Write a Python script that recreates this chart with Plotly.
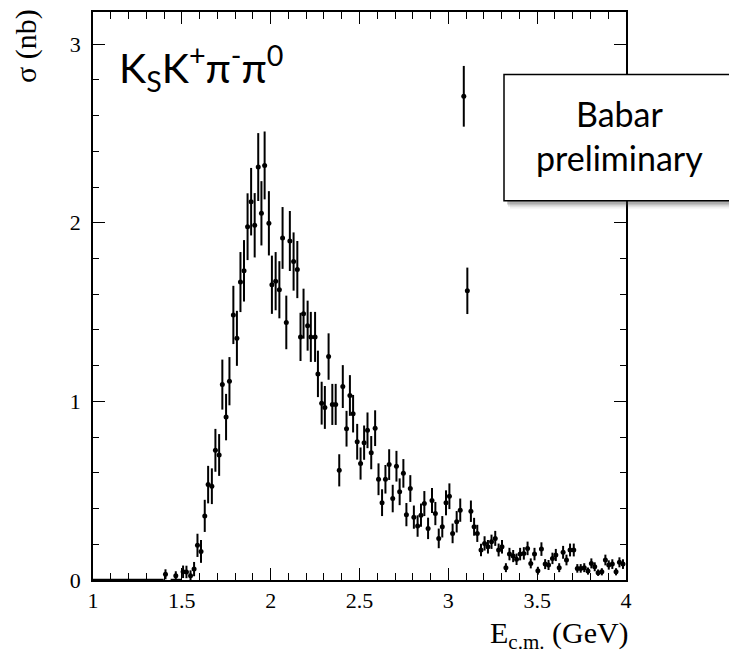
import plotly.graph_objects as go

# Bin centres (GeV) and cross sections (nb)
energy = [1.408, 1.466, 1.507, 1.526, 1.549, 1.569, 1.588, 1.608, 1.629, 1.648,
          1.669, 1.689, 1.710, 1.728, 1.749, 1.768, 1.790, 1.810, 1.830, 1.850,
          1.870, 1.890, 1.910, 1.930, 1.948, 1.966, 1.990, 2.007, 2.028, 2.049,
          2.067, 2.088, 2.108, 2.129, 2.150, 2.168, 2.185, 2.208, 2.226, 2.250,
          2.266, 2.287, 2.305, 2.326, 2.347, 2.366, 2.386, 2.406, 2.427, 2.446,
          2.464, 2.487, 2.506, 2.526, 2.545, 2.566, 2.588, 2.607, 2.627, 2.646,
          2.667, 2.687, 2.708, 2.726, 2.747, 2.764, 2.786, 2.806, 2.827, 2.846,
          2.865, 2.886, 2.908, 2.927, 2.946, 2.966, 2.987, 3.006, 3.024, 3.047,
          3.067, 3.087, 3.107, 3.127, 3.145, 3.163, 3.184, 3.204, 3.223, 3.243,
          3.264, 3.283, 3.302, 3.324, 3.344, 3.365, 3.384, 3.404, 3.425, 3.446,
          3.464, 3.485, 3.504, 3.524, 3.545, 3.564, 3.586, 3.605, 3.624, 3.646,
          3.665, 3.685, 3.706, 3.726, 3.745, 3.765, 3.786, 3.805, 3.824, 3.843,
          3.864, 3.884, 3.903, 3.923, 3.944, 3.963, 3.983]

sigma = [0.032, 0.024, 0.046, 0.045, 0.024, 0.061, 0.194, 0.160, 0.359, 0.534,
         0.525, 0.726, 0.700, 1.094, 0.912, 1.113, 1.484, 1.353, 1.668, 1.731,
         1.978, 2.118, 1.986, 2.312, 2.053, 2.321, 1.997, 1.653, 1.673, 1.625,
         1.915, 1.442, 1.898, 1.783, 1.738, 1.361, 1.491, 1.424, 1.361, 1.361,
         1.154, 0.990, 0.966, 1.251, 0.983, 0.983, 0.614, 1.083, 0.847, 1.033,
         0.931, 0.774, 0.652, 0.769, 0.838, 0.713, 0.850, 0.564, 0.433, 0.564,
         0.646, 0.456, 0.637, 0.494, 0.597, 0.366, 0.512, 0.352, 0.302, 0.363,
         0.428, 0.289, 0.445, 0.372, 0.233, 0.298, 0.432, 0.469, 0.261, 0.326,
         0.391, 2.708, 1.619, 0.385, 0.298, 0.261, 0.168, 0.205, 0.186, 0.214,
         0.233, 0.168, 0.186, 0.069, 0.145, 0.134, 0.116, 0.145, 0.149, 0.177,
         0.093, 0.145, 0.052, 0.173, 0.089, 0.084, 0.121, 0.140, 0.069, 0.155,
         0.112, 0.168, 0.168, 0.065, 0.065, 0.069, 0.050, 0.093, 0.074, 0.041,
         0.046, 0.112, 0.084, 0.089, 0.046, 0.099, 0.089]

sigma_err = [0.028, 0.025, 0.035, 0.035, 0.030, 0.040, 0.065, 0.064, 0.090, 0.105,
             0.100, 0.120, 0.117, 0.140, 0.130, 0.135, 0.163, 0.154, 0.168, 0.172,
             0.187, 0.189, 0.180, 0.190, 0.180, 0.190, 0.180, 0.163, 0.163, 0.160,
             0.173, 0.150, 0.168, 0.163, 0.160, 0.135, 0.140, 0.140, 0.140, 0.140,
             0.130, 0.120, 0.120, 0.130, 0.115, 0.115, 0.090, 0.120, 0.100, 0.114,
             0.105, 0.100, 0.090, 0.096, 0.100, 0.093, 0.100, 0.089, 0.075, 0.080,
             0.086, 0.077, 0.086, 0.075, 0.080, 0.065, 0.075, 0.065, 0.060, 0.065,
             0.070, 0.060, 0.070, 0.065, 0.055, 0.060, 0.070, 0.072, 0.055, 0.060,
             0.065, 0.170, 0.130, 0.060, 0.050, 0.048, 0.035, 0.040, 0.038, 0.040,
             0.042, 0.036, 0.038, 0.025, 0.035, 0.034, 0.032, 0.035, 0.035, 0.038,
             0.028, 0.035, 0.022, 0.038, 0.028, 0.028, 0.032, 0.034, 0.025, 0.036,
             0.030, 0.036, 0.036, 0.024, 0.024, 0.025, 0.020, 0.028, 0.025, 0.018,
             0.020, 0.030, 0.026, 0.027, 0.020, 0.028, 0.027]

# Empty bins drawn as horizontal bars at zero
zero_x = [1.0, 1.398, None, 1.437, 1.497]
zero_y = [0, 0, None, 0, 0]

x_ticks = [1, 1.5, 2, 2.5, 3, 3.5, 4]
x_ticklabels = ["1", "1.5", "2", "2.5", "3", "3.5", "4"]
y_ticks = [0, 1, 2, 3]
y_ticklabels = ["0", "1", "2", "3"]

fig = go.Figure()
fig.add_trace(go.Scatter(x=zero_x, y=zero_y, mode="lines",
                         line=dict(color="black", width=2.5),
                         showlegend=False, hoverinfo="skip", cliponaxis=False))
fig.add_trace(go.Scatter(
    x=energy, y=sigma, mode="markers",
    marker=dict(color="black", size=5, symbol="circle"),
    error_y=dict(type="data", array=sigma_err, visible=True,
                 color="black", thickness=2, width=0),
    showlegend=False))

serif = "Liberation Serif"
axis_common = dict(showline=True, linecolor="black", linewidth=1.5,
                   mirror="allticks", ticks="inside", tickcolor="black",
                   tickwidth=1, ticklen=12, showgrid=False, zeroline=False,
                   tickfont=dict(family=serif, size=22, color="black"))

fig.update_xaxes(range=[1, 4], tickmode="array", tickvals=x_ticks,
                 ticktext=x_ticklabels, ticklabelstandoff=0,
                 minor=dict(dtick=0.1, ticks="inside", ticklen=7,
                            tickcolor="black", tickwidth=1, showgrid=False),
                 **axis_common)
fig.update_yaxes(range=[0, 3.18], tickmode="array", tickvals=y_ticks,
                 ticktext=y_ticklabels, ticklabelstandoff=6,
                 minor=dict(dtick=0.2, ticks="inside", ticklen=6,
                            tickcolor="black", tickwidth=1, showgrid=False),
                 **axis_common)

L, R, T, B = 93, 103, 10, 77
W, H = 729, 657
pw, ph = W - L - R, H - T - B


def px(xp):
    return (xp - L) / pw


def py(yp):
    return (H - B - yp) / ph


sans = "Lato"
shapes = []
# soft shadow of the label box
for dx, dy, op in [(6, 8, 0.08), (4, 6, 0.15), (3, 4, 0.25)]:
    shapes.append(dict(type="rect", xref="paper", yref="paper",
                       x0=px(504 + dx), x1=px(740), y0=py(199.3 + dy), y1=py(72.7 + dy),
                       fillcolor="rgba(60,60,60,%s)" % op, line=dict(width=0),
                       layer="above"))
shapes.append(dict(type="rect", xref="paper", yref="paper",
                   x0=px(504), x1=px(740), y0=py(199.3), y1=py(72.7),
                   fillcolor="white", line=dict(color="black", width=1.5),
                   layer="above"))

annotations = [
    dict(text="σ (nb)", xref="paper", yref="paper", x=px(26), y=py(5),
         xanchor="center", yanchor="top", textangle=-90, showarrow=False,
         font=dict(family=serif, size=30, color="black")),
    dict(text="E<sub>c.m.</sub> (GeV)", xref="paper", yref="paper",
         x=px(631), y=py(635), xanchor="right", yanchor="middle",
         showarrow=False, font=dict(family=serif, size=30, color="black")),
    dict(text="K<sub>S</sub>K<sup>+</sup>π<sup>-</sup>π<sup>0</sup>",
         xref="paper", yref="paper", x=px(117), y=py(66), xanchor="left",
         yanchor="middle", showarrow=False,
         font=dict(family=sans, size=41, color="black")),
    dict(text="Babar<br>preliminary", xref="paper", yref="paper",
         x=px(619), y=py(134), xanchor="center", yanchor="middle",
         align="center", showarrow=False,
         font=dict(family=sans, size=34, color="black")),
]

fig.update_layout(width=W, height=H, margin=dict(l=L, r=R, t=T, b=B),
                  plot_bgcolor="white", paper_bgcolor="white",
                  shapes=shapes, annotations=annotations)

fig.write_html("out.html")
